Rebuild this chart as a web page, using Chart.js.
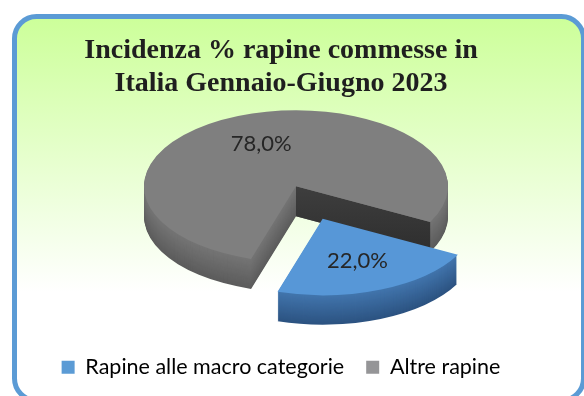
<!DOCTYPE html>
<html>
<head>
<meta charset="utf-8">
<script src="https://cdn.jsdelivr.net/npm/chart.js@4.4.0/dist/chart.umd.min.js"></script>
<style>
  html, body { margin: 0; padding: 0; background: #fff; }
  #wrap { width: 584px; height: 396px; }
</style>
</head>
<body>
<div id="wrap"><canvas id="myChart"></canvas></div>
<script>
// dati del grafico
const categories = ['Rapine alle macro categorie', 'Altre rapine'];
const values = [22.0, 78.0];
const valueLabels = ['22,0%', '78,0%'];
const titleLines = ['Incidenza % rapine commesse in', 'Italia Gennaio-Giugno 2023'];

// colori: faccia superiore, fianco (alto/basso), legenda
const topColors = ['#5797d7', '#7f7f7f'];
const sideColors = [['#4275ad', '#2c5381'], ['#747474', '#5c5c5c']];
const cutColors = ['#3e3e3e', '#2e2e2e'];
const legendColors = ['#5b9bd5', '#959597'];

// parametri della vista 3D
const squash = 0.5;   // schiacciamento verticale
const depth = 30;     // spessore della torta in pixel
const lift = -36;     // spostamento verticale della torta
const shiftX = 15;    // spostamento orizzontale della torta

function mix(a, b, t) {
  const pa = parseInt(a.slice(1), 16), pb = parseInt(b.slice(1), 16);
  const ch = (sh) => Math.round(((pa >> sh) & 255) * (1 - t) + ((pb >> sh) & 255) * t);
  return `rgb(${ch(16)},${ch(8)},${ch(0)})`;
}

function setView(ctx, cy, k) {
  ctx.setTransform(1, 0, 0, squash, shiftX, cy + lift + k - cy * squash);
}

function slicePath(ctx, arc) {
  const off = (arc.options.offset || 0) / 4;
  const mid = (arc.startAngle + arc.endAngle) / 2;
  const x = arc.x + Math.cos(mid) * off;
  const y = arc.y + Math.sin(mid) * off;
  ctx.beginPath();
  ctx.moveTo(x, y);
  ctx.arc(x, y, arc.outerRadius, arc.startAngle, arc.endAngle);
  ctx.closePath();
}

// sfondo con bordo arrotondato
const frame = {
  id: 'frame',
  beforeDraw(chart) {
    const ctx = chart.ctx;
    ctx.save();
    ctx.fillStyle = '#ffffff';
    ctx.fillRect(0, 0, chart.width, chart.height);
    const g = ctx.createLinearGradient(0, 16, 0, 400);
    g.addColorStop(0, '#ccff99');
    g.addColorStop(0.72, '#ffffff');
    g.addColorStop(1, '#ffffff');
    ctx.beginPath();
    ctx.roundRect(14.5, 16.5, 569, 384, 22);
    ctx.fillStyle = g;
    ctx.fill();
    ctx.lineWidth = 5;
    ctx.strokeStyle = '#5b9bd5';
    ctx.stroke();
    ctx.restore();
  }
};

// fianchi della torta e vista schiacciata
const pie3d = {
  id: 'pie3d',
  beforeDatasetsDraw(chart) {
    const ctx = chart.ctx;
    const arcs = chart.getDatasetMeta(0).data;
    const cy = arcs[0].y;
    const sy = (y) => cy + lift + (y - cy) * squash;
    ctx.save();
    // prima la fetta dietro (indice 1), poi quella staccata
    [1, 0].forEach(i => {
      const arc = arcs[i];
      for (let k = depth; k >= 1; k--) {
        setView(ctx, cy, k);
        slicePath(ctx, arc);
        ctx.fillStyle = mix(sideColors[i][0], sideColors[i][1], (k - 1) / (depth - 1));
        ctx.fill();
      }
      if (i === 1) {
        // faccia interna scura lungo il taglio
        const a = arc.endAngle;
        const x0 = arc.x + shiftX, y0 = sy(arc.y);
        const x1 = x0 + Math.cos(a) * arc.outerRadius;
        const y1 = sy(arc.y + Math.sin(a) * arc.outerRadius);
        ctx.setTransform(1, 0, 0, 1, 0, 0);
        const g = ctx.createLinearGradient(0, y0, 0, y1 + depth);
        g.addColorStop(0, cutColors[0]);
        g.addColorStop(1, cutColors[1]);
        ctx.beginPath();
        ctx.moveTo(x0, y0);
        ctx.lineTo(x1, y1);
        ctx.lineTo(x1, y1 + depth);
        ctx.lineTo(x0, y0 + depth);
        ctx.closePath();
        ctx.fillStyle = g;
        ctx.fill();
      }
    });
    // le facce superiori vengono disegnate da Chart.js con questa vista
    setView(ctx, cy, 0);
  },
  afterDatasetsDraw(chart) {
    const ctx = chart.ctx;
    ctx.restore();
    const arcs = chart.getDatasetMeta(0).data;
    const cy = arcs[0].y;
    ctx.save();
    ctx.font = '22px Lato';
    ctx.fillStyle = '#262626';
    ctx.textAlign = 'center';
    ctx.textBaseline = 'middle';
    arcs.forEach((arc, i) => {
      const off = (arc.options.offset || 0) / 4;
      const mid = (arc.startAngle + arc.endAngle) / 2;
      const r = off + arc.outerRadius * 0.6;
      const x = arc.x + shiftX + Math.cos(mid) * r;
      const y = cy + lift + Math.sin(mid) * r * squash;
      ctx.fillText(valueLabels[i], x, y);
    });
    ctx.restore();
  }
};

const ctx = document.getElementById('myChart').getContext('2d');
const myChart = new Chart(ctx, {
  type: 'pie',
  data: {
    labels: categories,
    datasets: [{
      data: values,
      backgroundColor: topColors,
      borderWidth: 0,
      offset: [280, 0],
      radius: 152,
      cutout: '0%',
      clip: false
    }]
  },
  options: {
    responsive: true,
    maintainAspectRatio: false,
    animation: false,
    events: [],
    rotation: 118,
    layout: { padding: { left: 0, right: 22, top: 0, bottom: 8 } },
    plugins: {
      tooltip: { enabled: false },
      title: {
        display: true,
        text: titleLines,
        color: '#1f1f1f',
        font: { family: 'Liberation Serif', size: 28, weight: 'bold', lineHeight: 1.18 },
        padding: { top: 34, bottom: 10 }
      },
      legend: {
        position: 'bottom',
        labels: {
          boxWidth: 13,
          boxHeight: 13,
          padding: 22,
          color: '#262626',
          font: { family: 'Lato', size: 21.5 },
          generateLabels: () => categories.map((c, i) => ({
            text: c,
            fillStyle: legendColors[i],
            strokeStyle: legendColors[i],
            lineWidth: 0,
            hidden: false,
            index: i
          }))
        }
      }
    }
  },
  plugins: [frame, pie3d]
});
</script>
</body>
</html>
